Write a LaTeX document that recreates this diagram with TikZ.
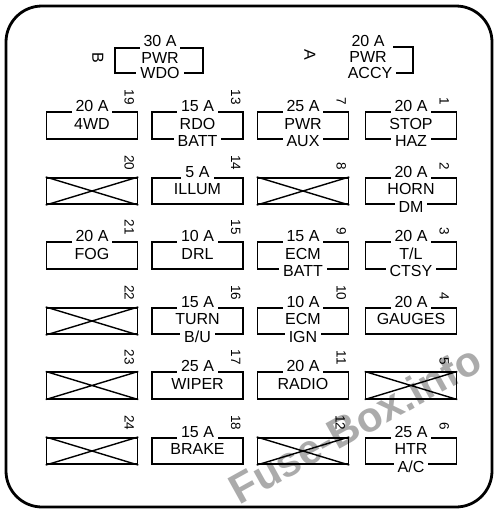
\documentclass[tikz,border=0pt]{standalone}
\usepackage{fontspec}
\setmainfont{Liberation Sans}
\newcommand\FZ[4]{\node[fbox] (f#1) at (#2,#3) {};
  \node[numlab] (n#1) at ([xshift=-#4pt,yshift=6.5pt]f#1.north east) {#1};}
\newcommand\FT[2]{\node[toplab] (t#1) at ([yshift=-0.5pt]f#1.north) {#2};}
\newcommand\FM[2]{\node[midlab] (m#1) at ([yshift=2pt]f#1.center) {#2};}
\newcommand\FB[2]{\node[botlab] (b#1) at ([yshift=-1.5pt]f#1.south) {#2};}
\newcommand\FX[1]{\draw[xline] (f#1.north west) -- (f#1.south east) (f#1.south west) -- (f#1.north east);}
\begin{document}
\begin{tikzpicture}[x=1pt,y=-1pt,
  fuseline/.style={line width=1.6pt},
  fbox/.style={draw, line width=1.6pt, minimum width=91pt, minimum height=26.5pt, inner sep=0pt},
  lab/.style={font=\fontsize{16}{17}\selectfont, inner sep=0pt},
  toplab/.style={lab, anchor=base, fill=white, inner xsep=4pt, inner ysep=2pt},
  midlab/.style={lab},
  botlab/.style={lab, fill=white, inner xsep=4pt, inner ysep=1pt},
  numlab/.style={font=\fontsize{13.5}{14}\selectfont, rotate=-90, inner sep=0pt, anchor=east},
  xline/.style={line width=1.4pt},
  wmark/.style={font=\fontsize{42}{46}\selectfont\bfseries, text=black!33, rotate=29, inner sep=0pt}]
\useasboundingbox (0,0) rectangle (500,520);
\fill[white] (0,0) rectangle (500,520);
% watermark
\node[wmark] (wm) at (355,424) {Fuse-Box.info};
% outer border
\draw[line width=2.8pt, rounded corners=36pt] (6,6) rectangle (492,507);
% B group
\draw[fuseline] (115,48) rectangle (203,73);
\node[toplab] (Bt) at (160,46.5) {30 A};
\node[midlab] (Bm) at (160,57.5) {PWR};
\node[botlab] (Bb) at (160,73) {WDO};
\node[lab, rotate=-90] (Blab) at (98,58) {B};
% A group
\draw[fuseline] (393,47) -- (413,47) -- (413,73) -- (391,73);
\node[toplab] (At) at (368,46) {20 A};
\node[midlab] (Am) at (368,57) {PWR};
\node[botlab] (Ab) at (370,73) {ACCY};
\node[lab, rotate=-90] (Alab) at (310,55) {A};
% column 1
\FZ{19}{92}{125.5}{9} \FT{19}{20 A} \FM{19}{4WD}
\FZ{20}{92}{191}{9} \FX{20}
\FZ{21}{92}{255.5}{9} \FT{21}{20 A} \FM{21}{FOG}
\FZ{22}{92}{321}{9} \FX{22}
\FZ{23}{92}{385.5}{9} \FX{23}
\FZ{24}{92}{451}{9} \FX{24}
% column 2
\FZ{13}{197.5}{125.5}{8} \FT{13}{15 A} \FM{13}{RDO} \FB{13}{BATT}
\FZ{14}{197.5}{191}{8} \FT{14}{5 A} \FM{14}{ILLUM}
\FZ{15}{197.5}{255.5}{8} \FT{15}{10 A} \FM{15}{DRL}
\FZ{16}{197.5}{321}{8} \FT{16}{15 A} \FM{16}{TURN} \FB{16}{B/U}
\FZ{17}{197.5}{385.5}{8} \FT{17}{25 A} \FM{17}{WIPER}
\FZ{18}{197.5}{451}{8} \FT{18}{15 A} \FM{18}{BRAKE}
% column 3
\FZ{7}{303}{125.5}{8} \FT{7}{25 A} \FM{7}{PWR} \FB{7}{AUX}
\FZ{8}{303}{191}{8} \FX{8}
\FZ{9}{303}{255.5}{8} \FT{9}{15 A} \FM{9}{ECM} \FB{9}{BATT}
\FZ{10}{303}{321}{8} \FT{10}{10 A} \FM{10}{ECM} \FB{10}{IGN}
\FZ{11}{303}{385.5}{8} \FT{11}{20 A} \FM{11}{RADIO}
\FZ{12}{303}{451}{9} \FX{12}
% column 4
\FZ{1}{411}{125.5}{13} \FT{1}{20 A} \FM{1}{STOP} \FB{1}{HAZ}
\FZ{2}{411}{191}{13} \FT{2}{20 A} \FM{2}{HORN} \FB{2}{DM}
\FZ{3}{411}{255.5}{13} \FT{3}{20 A} \FM{3}{T/L} \FB{3}{CTSY}
\FZ{4}{411}{321}{13} \FT{4}{20 A} \FM{4}{GAUGES}
\FZ{5}{411}{385.5}{13} \FX{5}
\FZ{6}{411}{451}{13} \FT{6}{25 A} \FM{6}{HTR} \FB{6}{A/C}
\end{tikzpicture}
\end{document}
